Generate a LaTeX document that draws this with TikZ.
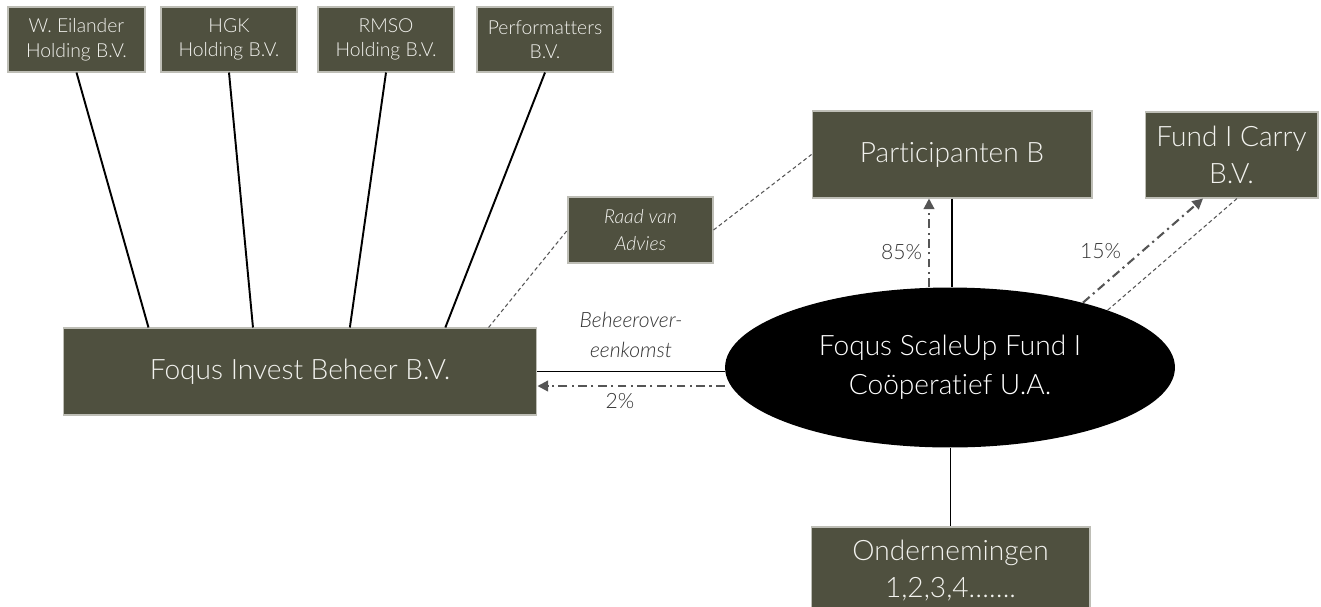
\documentclass[tikz,border=0pt]{standalone}
\usepackage{fontspec}
\setmainfont{Lato Light}[Ligatures=NoCommon, ItalicFont={Lato Light Italic}]
\usepackage{tikz}
\usetikzlibrary{arrows.meta}
\usetikzlibrary{shapes.geometric}
\usetikzlibrary{calc}

\definecolor{boxfill}{RGB}{79,80,63}
\definecolor{boxline}{RGB}{190,190,182}
\definecolor{boxtext}{RGB}{242,242,238}
\definecolor{flowgray}{RGB}{85,85,85}
\definecolor{labelgray}{RGB}{51,51,51}

\tikzset{
  entity/.style={draw=boxline, line width=0.6pt, fill=boxfill, text=boxtext, align=center, inner sep=2pt},
  bigtext/.style={font=\fontsize{16}{21}\selectfont},
  smalltext/.style={font=\fontsize{11}{14}\selectfont},
  link/.style={line width=1.1pt, black},
  advice/.style={line width=0.6pt, flowgray, dash pattern=on 2.2pt off 1.6pt},
  money/.style={line width=1.2pt, flowgray, dash pattern=on 5pt off 2.5pt on 1.2pt off 2.5pt, -{Triangle[length=6pt,width=6pt]}},
  pct/.style={font=\fontsize{12}{14}\selectfont, text=labelgray}
}

\begin{document}
\begin{tikzpicture}[x=0.02cm, y=-0.02cm]
      \useasboundingbox (0,0) rectangle (1321,606);
      % shareholders
      \node[entity, smalltext, minimum width=2.74cm, minimum height=1.3cm] at (76.5,39.5) (weil){W. Eilander\\Holding B.V.};
      \node[entity, smalltext, minimum width=2.72cm, minimum height=1.3cm] at (229,39.5) (hgk){HGK\\Holding B.V.};
      \node[entity, smalltext, minimum width=2.72cm, minimum height=1.3cm] at (386,39.5) (rmso){RMSO\\Holding B.V.};
      \node[entity, smalltext, minimum width=2.72cm, minimum height=1.3cm] at (545,39.5) (perf){Performatters\\B.V.};
      \node[entity, bigtext, minimum width=9.48cm, minimum height=1.74cm] at (300,371.5) (beheer){Foqus Invest Beheer B.V.};
      \node[entity, font=\fontsize{11}{15}\selectfont\itshape, minimum width=2.9cm, minimum height=1.32cm] at (640.5,230) (raad){Raad van\\Advies};
      \node[entity, bigtext, minimum width=5.6cm, minimum height=1.74cm] at (952,154.5) (part){Participanten B};
      \node[entity, bigtext, minimum width=3.46cm, minimum height=1.72cm] at (1231.5,155) (carry){Fund I Carry\\B.V.};
      \node[ellipse, fill=black, text=white, align=center, inner sep=0pt, font=\fontsize{16}{22}\selectfont, minimum width=9cm, minimum height=3.2cm] at (950,367.5) (fund){Foqus ScaleUp Fund I\\Coöperatief U.A.};
      \node[entity, bigtext, minimum width=5.58cm, minimum height=1.74cm] at (950.5,570.5) (onder){Ondernemingen\\1,2,3,4…….};

      \draw[link] (weil.south) -- ($(beheer.north west)!0.181!(beheer.north east)$);
      \draw[link] (hgk.south) -- ($(beheer.north west)!0.401!(beheer.north east)$);
      \draw[link] (rmso.south) -- ($(beheer.north west)!0.605!(beheer.north east)$);
      \draw[link] (perf.south) -- ($(beheer.north west)!0.806!(beheer.north east)$);

      \draw[advice] ($(beheer.north west)!0.897!(beheer.north east)$) -- (raad.west);
      \draw[advice] (raad.east) -- (part.west);

      \draw[link] (beheer.east) -- node[above, pct, font=\fontsize{12}{17}\selectfont\itshape, align=center, yshift=4pt] {Beheerover-\\eenkomst} (beheer.east -| fund.west);
      \draw[money] ([yshift=-0.29cm]beheer.east -| fund.west) -- node[below, pct, pos=0.56] {2\%} ([yshift=-0.29cm]beheer.east);

      \draw[link] (part.south) -- (part.south |- fund.north);
      \draw[money] ([xshift=-0.46cm]part.south |- fund.north) -- node[left, pct, pos=0.4] {85\%} ([xshift=-0.46cm]part.south);

      \draw[money] (fund.26) -- node[left=0.3cm, pct, pos=0.5] {15\%} ([xshift=-0.57cm]carry.south);
      \draw[advice] (fund.20) -- ([xshift=0.11cm]carry.south);

      \draw[link] (onder.north |- fund.south) -- (onder.north);
    \end{tikzpicture}
\end{document}
